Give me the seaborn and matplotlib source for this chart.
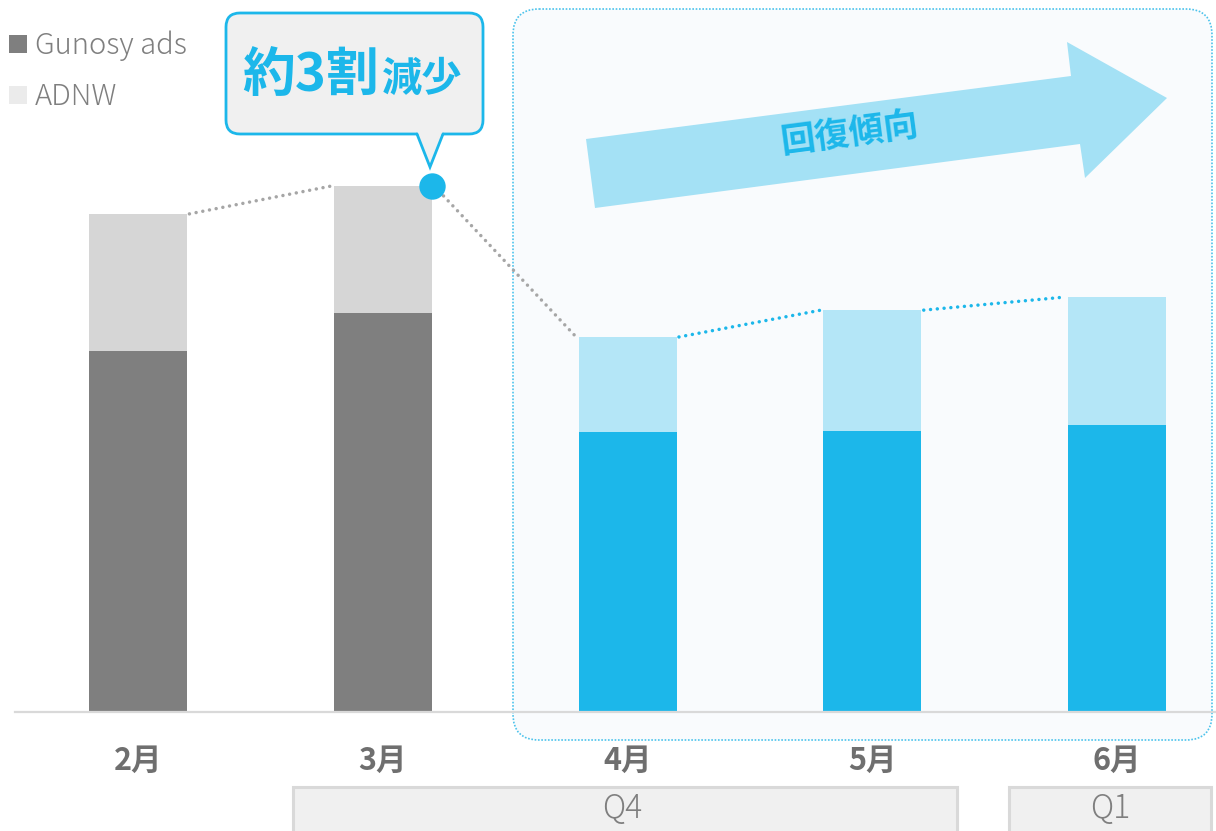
import numpy as np
import pandas as pd
import matplotlib
matplotlib.use('Agg')
import matplotlib.pyplot as plt
import seaborn as sns
from matplotlib.patches import FancyBboxPatch, Polygon, Patch, Rectangle

# ---- data (index units, 3月 total = 100) ----
months = ['2月', '3月', '4月', '5月', '6月']
gunosy_ads = [68.6, 75.9, 53.2, 53.4, 54.6]
adnw = [26.1, 24.1, 18.1, 23.0, 24.3]
legend_labels = ['Gunosy ads', 'ADNW']
quarters = ['Q4', 'Q1']
callout_big = '約3割'
callout_small = '減少'
arrow_label = '回復傾向'

sns.set_theme(style='white')
plt.rcParams['font.family'] = ['Noto Sans CJK JP', 'DejaVu Sans']

W, H = 1216, 831
BLUE = '#1cb7ea'
fig = plt.figure(figsize=(W / 100, H / 100), dpi=100)
fig.patch.set_facecolor('white')

# background overlay (highlight region)
bg = fig.add_axes([0, 0, 1, 1], zorder=0)
bg.set_xlim(0, W); bg.set_ylim(H, 0); bg.axis('off')
bg.add_patch(FancyBboxPatch((513, 9), 699, 731,
                            boxstyle='round,pad=0,rounding_size=26',
                            fc='#f9fbfd', ec='#4cc3ec', lw=1.2, ls=(0, (1, 1))))

# main axes
base_px = 712
ax = fig.add_axes([15 / W, (H - base_px) / H, (W - 15) / W, base_px / H], zorder=1)
ax.patch.set_alpha(0)

df = pd.DataFrame({'month': months, 'gunosy': gunosy_ads, 'adnw': adnw})
df['total'] = df['gunosy'] + df['adnw']

dark_pal = {m: ('#7f7f7f' if i < 2 else BLUE) for i, m in enumerate(months)}
light_pal = {m: ('#d6d6d6' if i < 2 else '#b4e6f7') for i, m in enumerate(months)}

sns.barplot(data=df, x='month', y='total', hue='month', palette=light_pal,
            dodge=False, width=0.4, saturation=1, legend=False, errorbar=None,
            linewidth=0, ax=ax)
sns.barplot(data=df, x='month', y='gunosy', hue='month', palette=dark_pal,
            dodge=False, width=0.4, saturation=1, legend=False, errorbar=None,
            linewidth=0, ax=ax)

ax.set_xlim(-0.5026, 4.404)
ax.set_ylim(0, base_px / 5.26)

totals = df['total'].tolist()
for i in range(len(months) - 1):
    c = '#a6a6a6' if i < 2 else BLUE
    ax.plot([i + 0.21, i + 0.79], [totals[i], totals[i + 1]], color=c, lw=2.5,
            ls=(0, (0.01, 1.95)), dash_capstyle='round', zorder=4, clip_on=False)
ax.plot([1.2], [totals[1]], 'o', ms=19, color=BLUE, mec='none', zorder=5, clip_on=False)

sns.despine(ax=ax, left=True, top=True, right=True)
ax.spines['bottom'].set_color('#d9d9d9')
ax.spines['bottom'].set_linewidth(1.6)
ax.set_yticks([])
ax.set_xlabel(''); ax.set_ylabel('')
ax.set_xticks(range(len(months)))
ax.set_xticklabels(months, fontsize=22, fontweight='bold', color='#6f6f6f')
ax.tick_params(axis='x', length=0, pad=24)

# legend
handles = [Patch(fc='#7f7f7f', ec='none', label=legend_labels[0]),
           Patch(fc='#ebebeb', ec='none', label=legend_labels[1])]
fig.legend(handles=handles, loc='upper left', bbox_to_anchor=(-0.0066, 0.984),
           frameon=False, fontsize=21, handlelength=0.6, handleheight=0.6,
           handletextpad=0.27, labelspacing=0.7, borderaxespad=0.3, borderpad=0.3,
           labelcolor='#7f7f7f', prop={'weight': 'light', 'size': 21})

# foreground overlay
fg = fig.add_axes([0, 0, 1, 1], zorder=2)
fg.set_xlim(0, W); fg.set_ylim(H, 0); fg.axis('off'); fg.patch.set_alpha(0)

# arrow
fg.add_patch(Polygon([(586, 139), (1071, 76), (1067, 42), (1167, 98),
                      (1085, 178), (1080, 144), (595, 208)],
                     closed=True, fc='#a4e1f5', ec='none'))
fg.text(850, 133, arrow_label, rotation=7.5, rotation_mode='anchor',
        ha='center', va='center', fontsize=25, fontweight='bold', color=BLUE)

# callout
fg.add_patch(FancyBboxPatch((226, 13), 257, 121, boxstyle='round,pad=0,rounding_size=14',
                            fc='#f0f0f0', ec=BLUE, lw=2))
fg.add_patch(Polygon([(417, 131), (443, 131), (430, 166)], closed=True, fc='#f0f0f0', ec='none'))
fg.plot([417, 430, 443], [134, 167, 134], color=BLUE, lw=2, solid_joinstyle='miter')
fg.text(379, 91, callout_big, ha='right', va='baseline', fontsize=38,
        fontweight='bold', color=BLUE)
fg.text(382, 91, callout_small, ha='left', va='baseline', fontsize=29,
        fontweight='bold', color=BLUE)

# quarter boxes
fg.add_patch(Rectangle((293, 787), 664, 60, fc='#f0f0f0', ec='#d9d9d9', lw=2.2))
fg.add_patch(Rectangle((1009, 787), 202, 60, fc='#f0f0f0', ec='#d9d9d9', lw=2.2))
fg.text(622, 809, quarters[0], ha='center', va='center', fontsize=23,
        fontweight='light', color='#7f7f7f')
fg.text(1110, 809, quarters[1], ha='center', va='center', fontsize=23,
        fontweight='light', color='#7f7f7f')

fig.savefig('out.png', dpi=100)
